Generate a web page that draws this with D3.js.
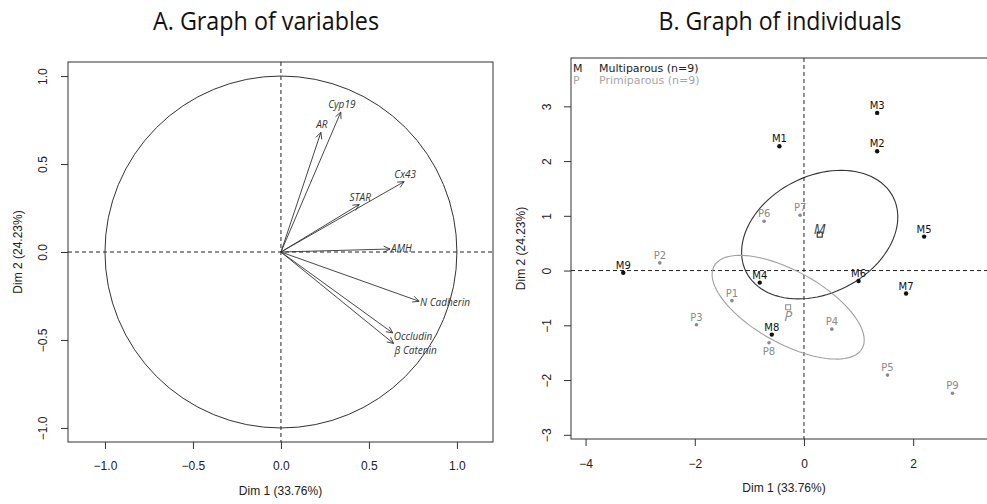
<!DOCTYPE html>
<html>
<head>
<meta charset="utf-8">
<script src="https://cdn.jsdelivr.net/npm/d3@7"></script>
<style>
  html, body { margin: 0; padding: 0; background: #fff; }
  svg { display: block; }
  .r-text { font-family: 'Liberation Sans', Arial, sans-serif; font-size: 12px; fill: #222; }
</style>
</head>
<body>
<svg id="chart" width="987" height="504"></svg>
<script>
// variables factor map (dim 1, dim 2 coordinates)
const variables = ['Cyp19', 'AR', 'Cx43', 'STAR', 'AMH', 'N Cadherin', 'Occludin', 'β Catenin'];
const varDim1 = [0.34, 0.227, 0.70, 0.445, 0.62, 0.785, 0.635, 0.64];
const varDim2 = [0.795, 0.68, 0.40, 0.27, 0.017, -0.28, -0.46, -0.52];

// individuals factor map
const individuals = ['M1', 'M2', 'M3', 'M4', 'M5', 'M6', 'M7', 'M8', 'M9',
  'P1', 'P2', 'P3', 'P4', 'P5', 'P6', 'P7', 'P8', 'P9'];
const indDim1 = [-0.45, 1.34, 1.34, -0.81, 2.20, 1.00, 1.87, -0.59, -3.31,
  -1.32, -2.64, -1.97, 0.51, 1.53, -0.73, -0.07, -0.64, 2.72];
const indDim2 = [2.27, 2.18, 2.88, -0.22, 0.62, -0.19, -0.42, -1.17, -0.04,
  -0.55, 0.14, -0.99, -1.07, -1.91, 0.90, 1.01, -1.32, -2.24];
const labelsBelow = ['P8'];

// groups, legend and confidence ellipses
const groups = ['M', 'P'];
const groupNames = ['Multiparous (n=9)', 'Primiparous (n=9)'];
const ellipseA = [1.51, 1.55];
const ellipseB = [1.07, 0.66];
const ellipseAngle = [27, -29];

const xTicksVar = [-1, -0.5, 0, 0.5, 1];
const yTicksVar = [-1, -0.5, 0, 0.5, 1];
const xTicksInd = [-4, -2, 0, 2];
const yTicksInd = [-3, -2, -1, 0, 1, 2, 3];

const groupColor = {M: '#111', P: '#8a8a8a'};
const legendColor = {M: '#222', P: '#a6a6a6'};

const svg = d3.select('#chart');

function title(text, cx, len) {
  svg.append('text')
    .attr('x', cx)
    .attr('y', 30)
    .attr('text-anchor', 'middle')
    .attr('textLength', len)
    .attr('lengthAdjust', 'spacingAndGlyphs')
    .style('font-family', "'Open Sans', sans-serif")
    .style('font-size', '25px')
    .style('fill', '#111')
    .text(text);
}

function frame(box, x, y, xTicks, yTicks, fmt, xPad, yOff) {
  const g = svg.append('g');

  g.append('g')
    .attr('transform', `translate(0,${box.bottom})`)
    .call(d3.axisBottom(x).tickValues(xTicks).tickFormat(fmt).tickSize(7).tickPadding(xPad))
    .call(a => a.select('.domain').remove())
    .call(a => a.selectAll('line').attr('stroke', '#333'))
    .call(a => a.selectAll('text').attr('class', 'r-text').attr('font-family', null).attr('font-size', null));

  g.append('g')
    .attr('transform', `translate(${box.left},0)`)
    .call(d3.axisLeft(y).tickValues(yTicks).tickFormat(fmt).tickSize(7))
    .call(a => a.select('.domain').remove())
    .call(a => a.selectAll('line').attr('stroke', '#333'))
    .call(a => a.selectAll('text')
      .attr('class', 'r-text')
      .attr('font-family', null)
      .attr('font-size', null)
      .attr('text-anchor', 'middle')
      .attr('transform', 'rotate(-90)')
      .attr('x', 0)
      .attr('y', -yOff)
      .attr('dy', '0.35em'));

  g.append('rect')
    .attr('x', box.left)
    .attr('y', box.top)
    .attr('width', box.right - box.left)
    .attr('height', box.bottom - box.top)
    .attr('fill', 'none')
    .attr('stroke', '#333')
    .attr('stroke-width', 1);

  // dashed reference lines through the origin
  g.append('line')
    .attr('x1', box.left).attr('x2', box.right)
    .attr('y1', y(0)).attr('y2', y(0))
    .attr('stroke', '#222').attr('stroke-dasharray', '4,3');
  g.append('line')
    .attr('x1', x(0)).attr('x2', x(0))
    .attr('y1', box.top).attr('y2', box.bottom)
    .attr('stroke', '#222').attr('stroke-dasharray', '4,3');

  const cx = (box.left + box.right) / 2;
  g.append('text')
    .attr('class', 'r-text')
    .attr('x', cx)
    .attr('y', box.bottom + 53)
    .attr('text-anchor', 'middle')
    .text('Dim 1 (33.76%)');

  g.append('text')
    .attr('class', 'r-text')
    .attr('transform', `translate(${box.left - 50},${(box.top + box.bottom) / 2}) rotate(-90)`)
    .attr('text-anchor', 'middle')
    .attr('dy', '0.35em')
    .text('Dim 2 (24.23%)');

  return g;
}

// ---------- A. Graph of variables ----------
const boxA = {left: 68, right: 493, top: 62, bottom: 442};
const xA = d3.scaleLinear().domain([-1.21, 1.205]).range([boxA.left, boxA.right]);
const yA = d3.scaleLinear().domain([-1.08, 1.08]).range([boxA.bottom, boxA.top]);

title('A. Graph of variables', 266, 226);
const gA = frame(boxA, xA, yA, xTicksVar, yTicksVar, d3.format('.1f'), 12, 25);

gA.append('circle')
  .attr('cx', xA(0))
  .attr('cy', yA(0))
  .attr('r', xA(1) - xA(0))
  .attr('fill', 'none')
  .attr('stroke', '#333');

const varData = variables.map((name, i) => ({name, x: varDim1[i], y: varDim2[i]}));

// label placement: above the tip for upper arrows, to the right otherwise,
// pushing right-hand labels down when they would collide
varData.forEach(d => {
  d.above = d.y > 0.2;
  d.lx = xA(d.x) + 1;
  d.ly = d.above ? yA(d.y) - 4 : yA(d.y) + 3 + (-d.y) * 8;
});
const rightLabels = varData.filter(d => !d.above).sort((a, b) => a.ly - b.ly);
rightLabels.forEach((d, i) => {
  if (i > 0 && d.ly - rightLabels[i - 1].ly < 14) d.ly = rightLabels[i - 1].ly + 14;
});

const arrows = gA.selectAll('.arrow').data(varData).enter().append('g').attr('class', 'arrow');

arrows.append('line')
  .attr('x1', xA(0)).attr('y1', yA(0))
  .attr('x2', d => xA(d.x)).attr('y2', d => yA(d.y))
  .attr('stroke', '#333').attr('stroke-width', 0.9);

arrows.append('path')
  .attr('d', d => {
    const x1 = xA(d.x);
    const y1 = yA(d.y);
    const ang = Math.atan2(y1 - yA(0), x1 - xA(0));
    const len = 7;
    const a1 = ang + Math.PI - Math.PI / 7;
    const a2 = ang + Math.PI + Math.PI / 7;
    return `M${x1 + len * Math.cos(a1)},${y1 + len * Math.sin(a1)}L${x1},${y1}L${x1 + len * Math.cos(a2)},${y1 + len * Math.sin(a2)}`;
  })
  .attr('fill', 'none')
  .attr('stroke', '#333').attr('stroke-width', 0.9);

arrows.append('text')
  .attr('x', d => d.lx)
  .attr('y', d => d.ly)
  .attr('text-anchor', d => d.above ? 'middle' : 'start')
  .style('font-family', "'Open Sans', sans-serif")
  .style('font-style', 'italic')
  .style('font-size', '10px')
  .style('fill', '#333')
  .text(d => d.name);

// ---------- B. Graph of individuals ----------
const boxB = {left: 571, right: 997, top: 58, bottom: 439};
const xB = d3.scaleLinear().domain([-4.267, 3.535]).range([boxB.left, boxB.right]);
const yB = d3.scaleLinear().domain([-3.077, 3.883]).range([boxB.bottom, boxB.top]);

title('B. Graph of individuals', 780, 243);
const gB = frame(boxB, xB, yB, xTicksInd, yTicksInd, d3.format('d'), 13, 24);

const indData = individuals.map((name, i) => ({name, group: name[0], x: indDim1[i], y: indDim2[i]}));

groups.forEach((grp, gi) => {
  const members = indData.filter(d => d.group === grp);
  const mx = d3.mean(members, d => d.x);
  const my = d3.mean(members, d => d.y);
  const th = ellipseAngle[gi] * Math.PI / 180;
  const pts = d3.range(0, 101).map(k => {
    const t = (k / 100) * 2 * Math.PI;
    const ex = ellipseA[gi] * Math.cos(t);
    const ey = ellipseB[gi] * Math.sin(t);
    return [mx + ex * Math.cos(th) - ey * Math.sin(th), my + ex * Math.sin(th) + ey * Math.cos(th)];
  });

  gB.append('path')
    .datum(pts)
    .attr('d', d3.line().x(p => xB(p[0])).y(p => yB(p[1])))
    .attr('fill', 'none')
    .attr('stroke', grp === 'M' ? '#333' : '#a0a0a0')
    .attr('stroke-width', 1.1);

  gB.append('rect')
    .attr('x', xB(mx) - 2.5)
    .attr('y', yB(my) - 2.5)
    .attr('width', 5)
    .attr('height', 5)
    .attr('fill', 'none')
    .attr('stroke', groupColor[grp]);

  gB.append('text')
    .attr('x', xB(mx))
    .attr('y', grp === 'M' ? yB(my) - 1 : yB(my) + 14)
    .attr('text-anchor', 'middle')
    .style('font-family', "'Open Sans', sans-serif")
    .style('font-style', 'italic')
    .style('font-size', '14px')
    .style('fill', grp === 'M' ? '#444' : '#8a8a8a')
    .text(grp);
});

const dots = gB.selectAll('.ind').data(indData).enter().append('g').attr('class', 'ind');

dots.append('circle')
  .attr('cx', d => xB(d.x))
  .attr('cy', d => yB(d.y))
  .attr('r', d => d.group === 'M' ? 2.2 : 1.8)
  .attr('fill', d => groupColor[d.group]);

dots.append('text')
  .attr('x', d => xB(d.x))
  .attr('y', d => labelsBelow.includes(d.name) ? yB(d.y) + 12 : yB(d.y) - 4)
  .attr('text-anchor', 'middle')
  .style('font-family', "'DejaVu Sans', sans-serif")
  .style('font-size', '10px')
  .style('fill', d => groupColor[d.group])
  .text(d => d.name);

const legend = gB.selectAll('.legend').data(groups).enter().append('g').attr('class', 'legend');
legend.append('text')
  .attr('x', 573)
  .attr('y', (d, i) => 72 + i * 12)
  .style('font-family', "'DejaVu Sans', sans-serif")
  .style('font-size', '11px')
  .style('fill', d => legendColor[d])
  .text(d => d);
legend.append('text')
  .attr('x', 599)
  .attr('y', (d, i) => 72 + i * 12)
  .style('font-family', "'DejaVu Sans', sans-serif")
  .style('font-size', '11px')
  .style('fill', d => legendColor[d])
  .text((d, i) => groupNames[i]);
</script>
</body>
</html>
